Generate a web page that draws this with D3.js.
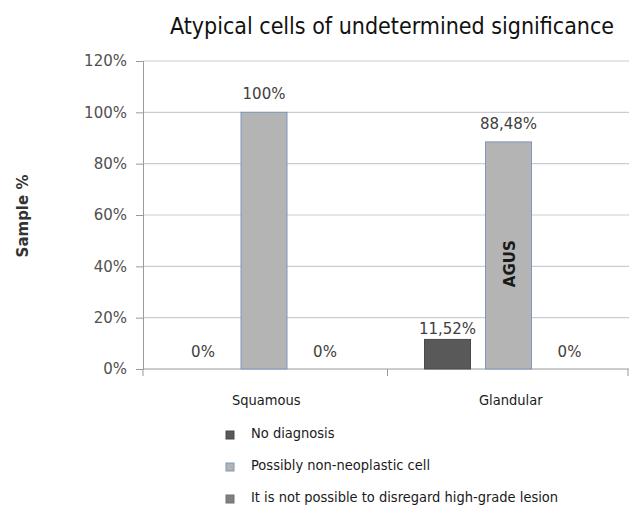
<!DOCTYPE html>
<html>
<head>
<meta charset="utf-8">
<script src="https://cdn.jsdelivr.net/npm/d3@7/dist/d3.min.js"></script>
<style>
  body { margin: 0; background: #fff; }
  svg { display: block; }
</style>
</head>
<body>
<svg id="chart" width="629" height="508"></svg>
<script>
var w = 629, h = 508;

// data
var categories = ["Squamous", "Glandular"];
var seriesNames = ["No diagnosis", "Possibly non-neoplastic cell", "It is not possible to disregard high-grade lesion"];
var noDiagnosis = [0, 11.52];
var nonNeoplastic = [100, 88.48];
var highGrade = [0, 0];
var valueLabels = [["0%", "100%", "0%"], ["11,52%", "88,48%", "0%"]];
var yTicks = [0, 20, 40, 60, 80, 100, 120];

var colors = ["#595959", "#b4b4b4", "#808080"];
var strokes = ["#4a4a4a", "#7d97bd", "#707070"];

var plotL = 143, plotR = 629, plotT = 61, plotB = 369;
var sans = "'DejaVu Sans', sans-serif";
var condensed = "'DejaVu Sans Condensed', 'DejaVu Sans', sans-serif";

var svg = d3.select("#chart");

var x0 = d3.scaleBand().domain(categories).range([plotL, plotR + 3]);
var x1 = d3.scaleBand().domain(d3.range(3)).range([37, 205]).paddingInner(0.246).paddingOuter(0);
var y = d3.scaleLinear().domain([0, 120]).range([plotB, plotT]);

// gridlines
svg.append("g")
  .selectAll("line")
  .data(yTicks.slice(1))
  .enter().append("line")
  .attr("x1", plotL).attr("x2", plotR)
  .attr("y1", d => y(d)).attr("y2", d => y(d))
  .attr("stroke", "#c9cdd2").attr("stroke-width", 1.2);

// y axis
var yAxis = svg.append("g")
  .attr("transform", "translate(" + plotL + ",0)")
  .call(d3.axisLeft(y).tickValues(yTicks).tickFormat(d => d + "%").tickSize(7).tickPadding(9));
yAxis.select(".domain").attr("stroke", "#9a9a9a");
yAxis.selectAll(".tick line").attr("stroke", "#9a9a9a");
yAxis.selectAll(".tick text")
  .attr("font-family", sans)
  .attr("font-size", 15).attr("fill", "#505050");

// x axis
svg.append("line")
  .attr("x1", plotL).attr("x2", plotR)
  .attr("y1", plotB).attr("y2", plotB)
  .attr("stroke", "#9a9a9a");
svg.append("g").selectAll("line")
  .data(categories.map(c => x0(c)).concat([plotR - 1]))
  .enter().append("line")
  .attr("x1", d => d).attr("x2", d => d)
  .attr("y1", plotB).attr("y2", plotB + 7)
  .attr("stroke", "#9a9a9a");
svg.append("g").selectAll("text")
  .data(categories)
  .enter().append("text")
  .attr("x", d => x0(d) + x0.bandwidth() / 2 + 1)
  .attr("y", 405)
  .attr("text-anchor", "middle")
  .attr("font-family", condensed)
  .attr("font-size", 14.5).attr("fill", "#1a1a1a")
  .text(d => d);

// bars
var series = [noDiagnosis, nonNeoplastic, highGrade];
var groups = svg.append("g").selectAll("g")
  .data(categories)
  .enter().append("g")
  .attr("transform", d => "translate(" + x0(d) + ",0)");

groups.each(function (cat, ci) {
  var g = d3.select(this);
  series.forEach(function (vals, si) {
    var v = vals[ci];
    if (v > 0) {
      g.append("rect")
        .attr("x", x1(si))
        .attr("y", y(v))
        .attr("width", x1.bandwidth())
        .attr("height", y(0) - y(v))
        .attr("fill", colors[si])
        .attr("stroke", strokes[si]).attr("stroke-width", 1);
    }
    var off = v === 0 ? 12 : (v < 20 ? 5 : 13);
    g.append("text")
      .attr("x", x1(si) + x1.bandwidth() / 2)
      .attr("y", y(v) - off)
      .attr("text-anchor", "middle")
      .attr("font-family", sans)
      .attr("font-size", 15).attr("fill", "#404040")
      .text(valueLabels[ci][si]);
  });
});

// AGUS label inside glandular bar
var agusX = x0("Glandular") + x1(1) + x1.bandwidth() / 2;
svg.append("text")
  .attr("transform", "translate(" + (agusX + 6) + "," + y(41) + ") rotate(-90)")
  .attr("text-anchor", "middle")
  .attr("font-family", sans)
  .attr("font-weight", "bold")
  .attr("font-size", 15).attr("fill", "#1a1a1a")
  .text("AGUS");

// y axis title
svg.append("text")
  .attr("transform", "translate(28,216) rotate(-90)")
  .attr("text-anchor", "middle")
  .attr("font-family", sans)
  .attr("font-weight", "bold")
  .attr("font-size", 15).attr("fill", "#333")
  .text("Sample %");

// title
svg.append("text")
  .attr("x", 392).attr("y", 34)
  .attr("text-anchor", "middle")
  .attr("font-family", condensed)
  .attr("font-size", 23).attr("fill", "#111")
  .text("Atypical cells of undetermined significance");

// legend
var legend = svg.append("g").selectAll("g")
  .data(seriesNames)
  .enter().append("g")
  .attr("transform", (d, i) => "translate(226," + (438 + i * 32) + ")");
legend.append("rect")
  .attr("x", 0).attr("y", -7)
  .attr("width", 8).attr("height", 8)
  .attr("fill", (d, i) => colors[i])
  .attr("stroke", (d, i) => strokes[i]);
legend.append("text")
  .attr("x", 25).attr("y", 0)
  .attr("font-family", condensed)
  .attr("font-size", 14.5).attr("fill", "#1a1a1a")
  .text(d => d);
</script>
</body>
</html>
